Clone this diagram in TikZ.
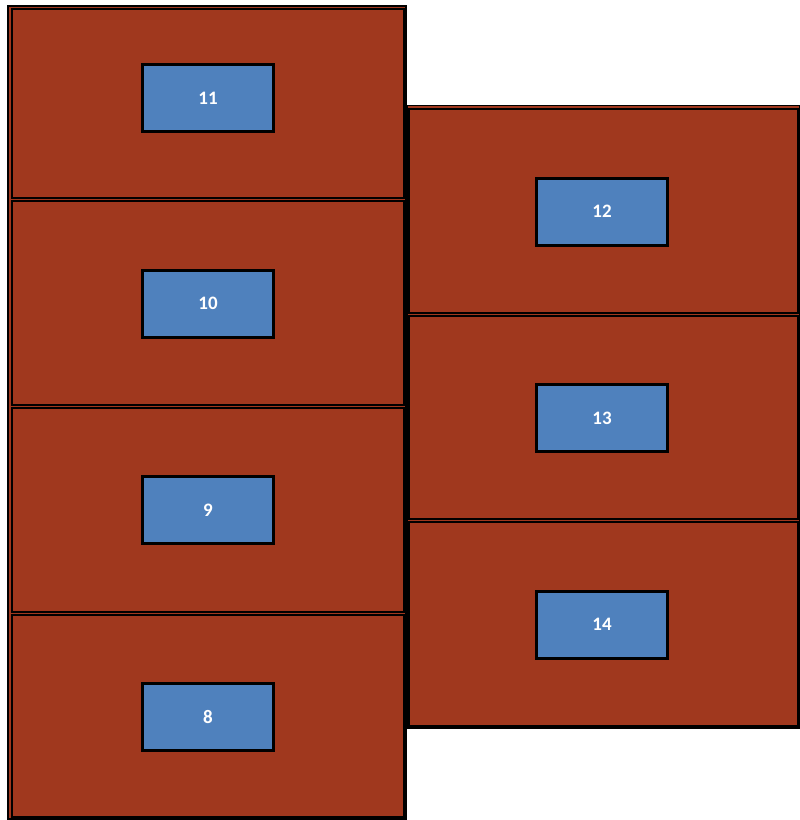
\documentclass[tikz,border=0pt]{standalone}
\usepackage{fontspec}
\setmainfont{Carlito}
\definecolor{rust}{RGB}{160,56,30}
\definecolor{tileblue}{RGB}{79,129,189}
\tikzset{
  container/.style={draw=black, fill=rust, line width=1.6pt},
  slab/.style={draw=black, fill=rust, line width=2pt},
  tag/.style={draw=black, fill=tileblue, line width=3pt, minimum width=131pt, minimum height=67pt, inner sep=0pt, text=white, font=\bfseries\fontsize{19}{22}\selectfont}
}
\begin{document}
\begin{tikzpicture}[x=1pt,y=-1pt]
\useasboundingbox (0,0) rectangle (800,820);
% containers
\draw[container] (8,6) rectangle (406,819);
\draw[container] (407,105.5) rectangle (800,728);
% left column slabs
\draw[slab] (12,9) rectangle (403.5,198);
\draw[slab] (12,200.5) rectangle (403.5,405);
\draw[slab] (12,407.5) rectangle (403.5,612);
\draw[slab] (12,614.5) rectangle (403.5,817);
% right column slabs
\draw[slab] (408.5,108.5) rectangle (798,313);
\draw[slab] (408.5,315.5) rectangle (798,519);
\draw[slab] (408.5,521.5) rectangle (798,726);
% tags
\node[tag] (t11) at (208,98) {11};
\node[tag] (t10) at (208,303.5) {10};
\node[tag] (t9) at (208,510) {9};
\node[tag] (t8) at (208,716.5) {8};
\node[tag] (t12) at (602,211.5) {12};
\node[tag] (t13) at (602,418) {13};
\node[tag] (t14) at (602,624.5) {14};
\end{tikzpicture}
\end{document}
